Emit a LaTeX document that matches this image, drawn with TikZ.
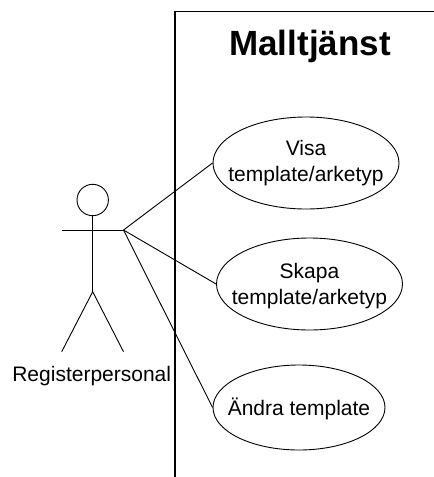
\documentclass[tikz,border=0pt]{standalone}
\usepackage{fontspec}
\setmainfont{Liberation Sans}
\usetikzlibrary{shapes.geometric}
\begin{document}
\begin{tikzpicture}[x=1pt,y=-1pt,
  usecase/.style={draw, line width=0.9pt, ellipse, inner sep=0pt},
  uctext/.style={align=center, inner sep=0pt, font=\fontsize{21}{26}\selectfont},
  lnk/.style={line width=0.9pt},
  actorline/.style={line width=0.9pt}]
\useasboundingbox (0,0) rectangle (434,477);
% system boundary
\draw[line width=1.6pt] (175,477) |- (434,11.3);
\node[font=\bfseries\fontsize{35}{40}\selectfont, anchor=base] (title) at (310,55) {Malltjänst};
% actor
\node[draw, circle, line width=0.9pt, minimum size=31.4pt, inner sep=0pt] (head) at (92.7,200) {};
\coordinate (neck) at (head.south);
\coordinate (hip) at (92.7,291.7);
\coordinate (larm) at (61.7,230);
\coordinate (hand) at (123.5,230);
\coordinate (lfoot) at (61.7,351.7);
\coordinate (rfoot) at (123.5,351.7);
\draw[actorline] (neck) -- (hip);
\draw[actorline] (larm) -- (hand);
\draw[actorline] (lfoot) -- (hip) -- (rfoot);
\node[font=\fontsize{21}{26}\selectfont, anchor=base] (actor) at (91.7,381.7) {Registerpersonal};
% use cases
\node[usecase, minimum width=186pt, minimum height=92pt] (visa) at (306,163) {};
\node[uctext, anchor=base] (visat) at (306,181.7) {Visa\\template/arketyp};
\node[usecase, minimum width=186pt, minimum height=92pt] (skapa) at (309.5,284) {};
\node[uctext, anchor=base] (skapat) at (309.5,304) {Skapa\\template/arketyp};
\node[usecase, minimum width=172pt, minimum height=85pt] (andra) at (299,407.5) {};
\node[uctext, anchor=base] (andrat) at (299,415) {Ändra template};
% associations
\draw[lnk] (hand) -- (visa.west);
\draw[lnk] (hand) -- (skapa.west);
\draw[lnk] (hand) -- (andra.west);
\end{tikzpicture}
\end{document}
